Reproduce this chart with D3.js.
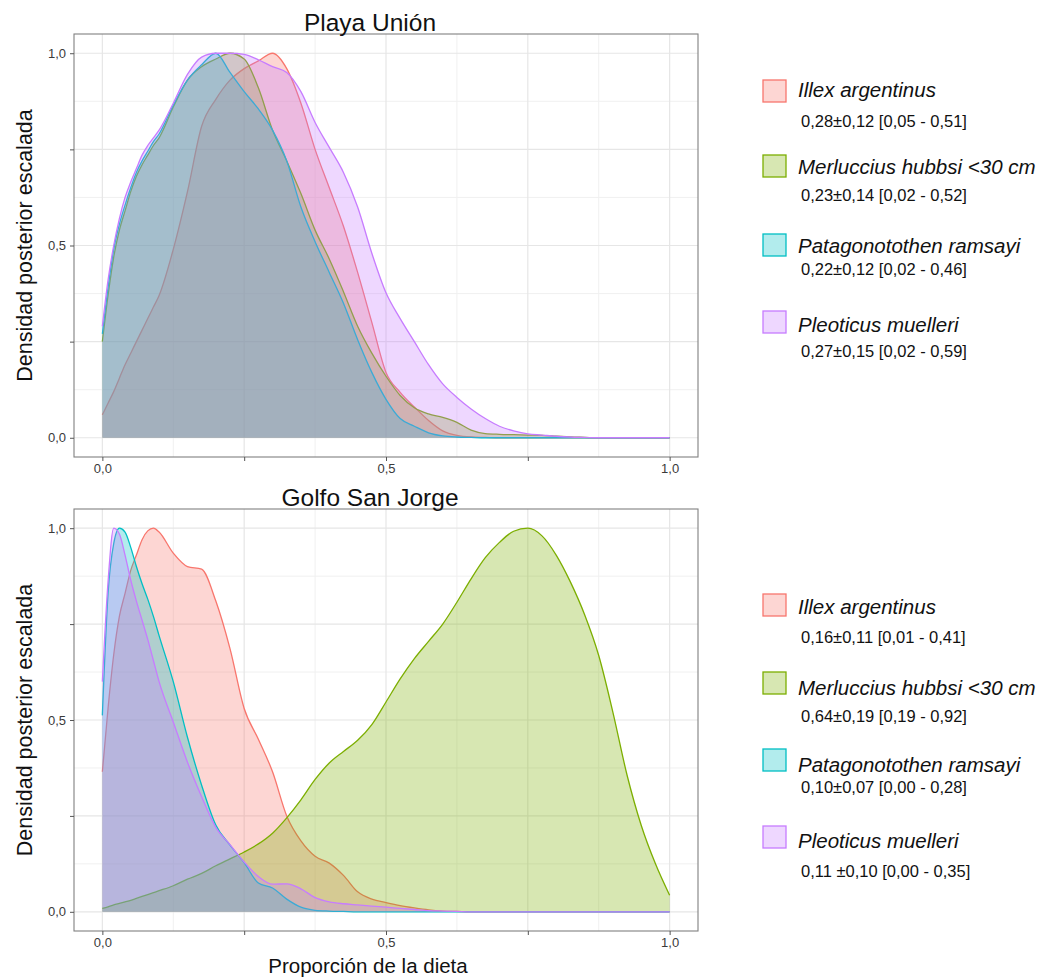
<!DOCTYPE html>
<html>
<head>
<meta charset="utf-8">
<script src="https://cdn.jsdelivr.net/npm/d3@7"></script>
<style>
  body { margin: 0; background: #fff; }
  svg { display: block; }
  text { font-family: "Liberation Sans", Arial, Helvetica, sans-serif; }
</style>
</head>
<body>
<svg id="chart" width="1044" height="980"></svg>
<script>
// Diet proportion grid at which the scaled posterior densities are given
const proportion = [
  0, 0.01, 0.02, 0.03, 0.04, 0.05, 0.06, 0.07, 0.08, 0.09, 0.1,
  0.125, 0.15, 0.175, 0.2, 0.225, 0.25, 0.275, 0.3, 0.325, 0.35, 0.375, 0.4,
  0.425, 0.45, 0.475, 0.5, 0.525, 0.55, 0.575, 0.6, 0.625, 0.65, 0.675, 0.7,
  0.725, 0.75, 0.775, 0.8, 0.825, 0.85, 0.875, 0.9, 0.925, 0.95, 0.975, 1
];

const species = ["Illex argentinus", "Merluccius hubbsi <30 cm", "Patagonotothen ramsayi", "Pleoticus muelleri"];
const speciesColors = ["#F8766D", "#7CAE00", "#00BFC4", "#C77CFF"];
const sites = ["Playa Unión", "Golfo San Jorge"];

// Playa Unión: scaled posterior density per prey
const puIllex = [0.06,0.09,0.12,0.155,0.19,0.22,0.25,0.28,0.31,0.34,0.37,
  0.49,0.64,0.81,0.88,0.93,0.96,0.98,1.0,0.96,0.87,0.75,0.65,0.55,0.43,0.30,0.17,0.118,0.08,0.045,0.018,0.006,0.002,0.001,
  0,0,0,0,0,0,0,0,0,0,0,0,0];
const puMerluccius = [0.25,0.37,0.47,0.54,0.59,0.64,0.68,0.71,0.735,0.76,0.78,
  0.86,0.93,0.965,0.985,1.0,0.985,0.91,0.8,0.72,0.635,0.54,0.465,0.38,0.29,0.22,0.16,0.11,0.078,0.062,0.053,0.04,0.02,0.011,
  0.009,0.008,0.007,0.006,0.004,0.002,0.001,0,0,0,0,0,0];
const puPatagonotothen = [0.27,0.39,0.49,0.555,0.605,0.65,0.69,0.72,0.745,0.77,0.79,
  0.865,0.93,0.97,1.0,0.95,0.9,0.855,0.8,0.72,0.6,0.51,0.43,0.35,0.255,0.17,0.1,0.05,0.03,0.013,0.005,0.002,0.001,
  0,0,0,0,0,0,0,0,0,0,0,0,0,0];
const puPleoticus = [0.29,0.41,0.5,0.57,0.625,0.665,0.7,0.735,0.76,0.78,0.8,
  0.87,0.945,0.99,1.0,1.0,0.997,0.983,0.965,0.95,0.9,0.82,0.755,0.69,0.6,0.48,0.377,0.31,0.25,0.19,0.14,0.105,0.075,0.05,
  0.03,0.018,0.01,0.007,0.004,0.002,0.001,0,0,0,0,0,0];

// Golfo San Jorge: scaled posterior density per prey
const gsjIllex = [0.365,0.53,0.67,0.77,0.83,0.89,0.93,0.97,0.993,1.0,0.99,
  0.935,0.9,0.893,0.81,0.686,0.53,0.45,0.365,0.25,0.185,0.145,0.127,0.095,0.052,0.033,0.024,0.016,0.01,0.005,0.002,0.001,
  0,0,0,0,0,0,0,0,0,0,0,0,0,0,0];
const gsjMerluccius = [0.009,0.013,0.018,0.022,0.026,0.03,0.035,0.04,0.045,0.05,0.055,
  0.068,0.085,0.1,0.12,0.138,0.156,0.177,0.205,0.245,0.292,0.345,0.388,0.418,0.447,0.488,0.547,0.607,0.66,0.705,0.75,
  0.807,0.868,0.923,0.963,0.992,1.0,0.98,0.93,0.86,0.775,0.668,0.52,0.356,0.225,0.125,0.043];
const gsjPatagonotothen = [0.512,0.83,0.96,1.0,0.99,0.95,0.9,0.855,0.815,0.77,0.72,
  0.6,0.455,0.33,0.226,0.174,0.128,0.075,0.062,0.033,0.012,0.004,0.002,0.001,
  0,0,0,0,0,0,0,0,0,0,0,0,0,0,0,0,0,0,0,0,0,0,0];
const gsjPleoticus = [0.6,0.86,1.0,0.985,0.93,0.865,0.81,0.76,0.71,0.655,0.6,
  0.495,0.39,0.3,0.22,0.175,0.13,0.092,0.072,0.073,0.06,0.037,0.026,0.021,0.018,0.015,0.012,0.009,0.006,0.003,0.002,0.001,
  0,0,0,0,0,0,0,0,0,0,0,0,0,0,0];

// Posterior summaries: mean ± sd [95% interval]
const puSummary = ["0,28\u00B10,12 [0,05 - 0,51]", "0,23\u00B10,14 [0,02 - 0,52]", "0,22\u00B10,12 [0,02 - 0,46]", "0,27\u00B10,15 [0,02 - 0,59]"];
const gsjSummary = ["0,16\u00B10,11 [0,01 - 0,41]", "0,64\u00B10,19 [0,19 - 0,92]", "0,10\u00B10,07 [0,00 - 0,28]", "0,11 \u00B10,10 [0,00 - 0,35]"];

// Axis breaks
const majorBreaks = [0, 0.25, 0.5, 0.75, 1];
const minorBreaks = [0.125, 0.375, 0.625, 0.875];
const breakLabels = ["0,0", "", "0,5", "", "1,0"];
const yTitle = "Densidad posterior escalada";
const xTitle = "Proporción de la dieta";

const panelsData = [
  { site: sites[0], series: [puIllex, puMerluccius, puPatagonotothen, puPleoticus], summary: puSummary },
  { site: sites[1], series: [gsjIllex, gsjMerluccius, gsjPatagonotothen, gsjPleoticus], summary: gsjSummary }
];

// Layout
const panelLayout = [
  { top: 34, bottom: 457, titleY: 31,
    legend: [{ box: 91, name: 97, stat: 127 }, { box: 166, name: 174, stat: 201 }, { box: 245, name: 253, stat: 275 }, { box: 322, name: 332, stat: 357 }] },
  { top: 509, bottom: 931, titleY: 506,
    legend: [{ box: 605, name: 614, stat: 643 }, { box: 683, name: 695, stat: 722 }, { box: 760, name: 772, stat: 793 }, { box: 837, name: 848, stat: 877 }] }
];
const panelLeft = 74, panelRight = 698;
const fillAlpha = 0.3;

const svg = d3.select("#chart");
svg.append("rect").attr("width", 1044).attr("height", 980).attr("fill", "#fff");

const x = d3.scaleLinear().domain([-0.05, 1.05]).range([panelLeft, panelRight]);

panelsData.forEach((p, pi) => {
  const L = panelLayout[pi];
  const y = d3.scaleLinear().domain([-0.05, 1.05]).range([L.bottom, L.top]);
  const g = svg.append("g");

  // panel background and grid
  g.append("rect").attr("x", panelLeft).attr("y", L.top)
    .attr("width", panelRight - panelLeft).attr("height", L.bottom - L.top).attr("fill", "#fff");

  minorBreaks.forEach(b => {
    g.append("line").attr("x1", x(b)).attr("x2", x(b)).attr("y1", L.top).attr("y2", L.bottom)
      .attr("stroke", "#f0f0f0").attr("stroke-width", 1);
    g.append("line").attr("x1", panelLeft).attr("x2", panelRight).attr("y1", y(b)).attr("y2", y(b))
      .attr("stroke", "#f0f0f0").attr("stroke-width", 1);
  });
  majorBreaks.forEach(b => {
    g.append("line").attr("x1", x(b)).attr("x2", x(b)).attr("y1", L.top).attr("y2", L.bottom)
      .attr("stroke", "#e6e6e6").attr("stroke-width", 1.2);
    g.append("line").attr("x1", panelLeft).attr("x2", panelRight).attr("y1", y(b)).attr("y2", y(b))
      .attr("stroke", "#e6e6e6").attr("stroke-width", 1.2);
  });

  // densities: each prey filled, then its upper outline
  const area = d3.area().x((d, i) => x(proportion[i])).y0(y(0)).y1(d => y(d)).curve(d3.curveMonotoneX);
  const line = d3.line().x((d, i) => x(proportion[i])).y(d => y(d)).curve(d3.curveMonotoneX);
  p.series.forEach((vals, si) => {
    g.append("path").datum(vals).attr("d", area)
      .attr("fill", speciesColors[si]).attr("fill-opacity", fillAlpha);
    g.append("path").datum(vals).attr("d", line)
      .attr("fill", "none").attr("stroke", speciesColors[si]).attr("stroke-width", 1.3);
  });

  // panel border
  g.append("rect").attr("x", panelLeft).attr("y", L.top)
    .attr("width", panelRight - panelLeft).attr("height", L.bottom - L.top)
    .attr("fill", "none").attr("stroke", "#808080").attr("stroke-width", 1.1);

  // axes
  const xAxis = d3.axisBottom(x).tickValues(majorBreaks).tickSize(4).tickPadding(3)
    .tickFormat((d, i) => breakLabels[i]);
  const yAxis = d3.axisLeft(y).tickValues(majorBreaks).tickSize(4).tickPadding(4)
    .tickFormat((d, i) => breakLabels[i]);
  const gx = g.append("g").attr("transform", `translate(0,${L.bottom})`).call(xAxis);
  const gy = g.append("g").attr("transform", `translate(${panelLeft},0)`).call(yAxis);
  [gx, gy].forEach(ax => {
    ax.select(".domain").remove();
    ax.selectAll(".tick line").attr("stroke", "#555").attr("stroke-width", 1);
    ax.selectAll(".tick text").attr("fill", "#3a3a3a").attr("font-size", 13)
      .style("font-family", "'Liberation Sans', Arial, sans-serif");
  });

  // titles
  g.append("text").attr("x", 370).attr("y", L.titleY).attr("text-anchor", "middle")
    .attr("font-size", 24.5).attr("fill", "#111").text(p.site);
  g.append("text")
    .attr("transform", `translate(32,${(L.top + L.bottom) / 2}) rotate(-90)`)
    .attr("text-anchor", "middle").attr("font-size", 21.5).attr("fill", "#111").text(yTitle);

  // legend
  species.forEach((name, si) => {
    const row = L.legend[si];
    g.append("rect").attr("x", 763).attr("y", row.box - 11).attr("width", 23).attr("height", 22)
      .attr("fill", speciesColors[si]).attr("fill-opacity", fillAlpha)
      .attr("stroke", speciesColors[si]).attr("stroke-width", 1.3);
    g.append("text").attr("x", 798).attr("y", row.name).attr("font-size", 20.5)
      .attr("font-style", "italic").attr("fill", "#111").text(name);
    g.append("text").attr("x", 801).attr("y", row.stat).attr("font-size", 16.5)
      .attr("fill", "#111").text(p.summary[si]);
  });
});

// shared x title
svg.append("text").attr("x", 368).attr("y", 973).attr("text-anchor", "middle")
  .attr("font-size", 20.5).attr("fill", "#111").text(xTitle);
</script>
</body>
</html>
